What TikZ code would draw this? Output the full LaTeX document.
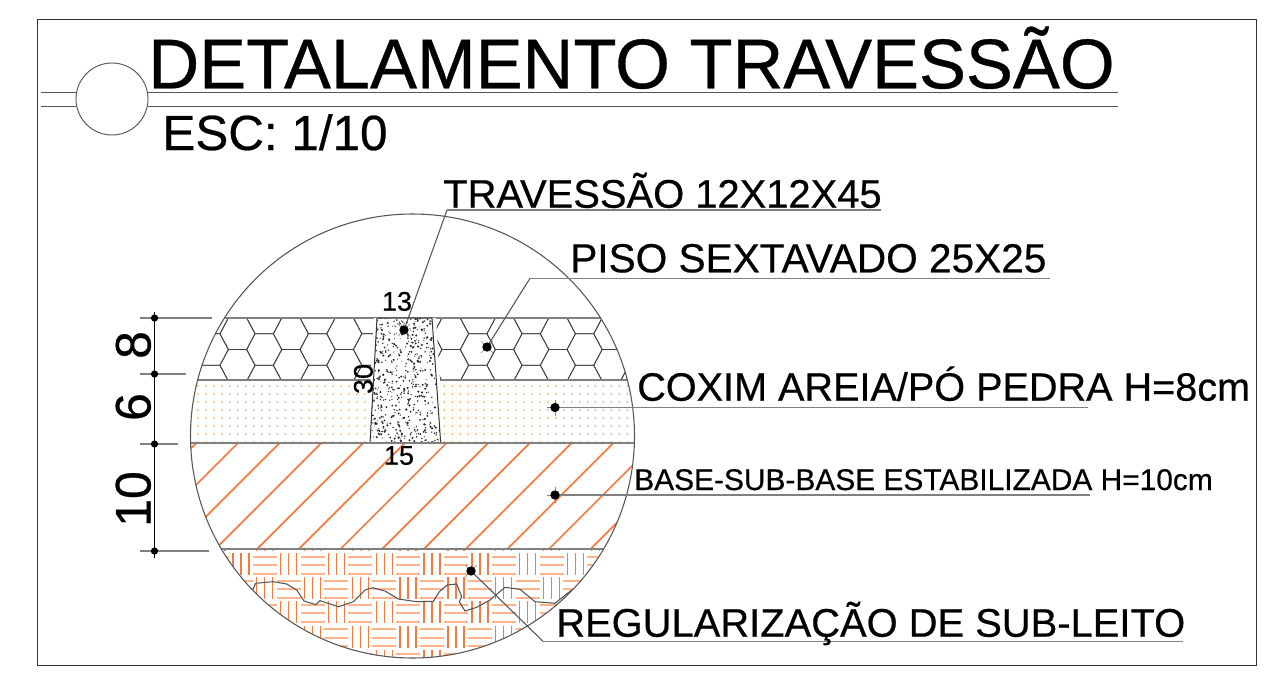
\documentclass[tikz,border=0pt]{standalone}
\usepackage{fontspec}
\setmainfont[FakeBold=0.5]{Liberation Sans}
\newcommand{\fsz}[1]{\pgfmathsetlengthmacro{\myfs}{#1*0.75}\fontsize{\myfs}{\myfs}\selectfont}
\definecolor{hatchor}{HTML}{F47B3E}
\definecolor{hatchlt}{HTML}{FFB48C}
\definecolor{dotor}{HTML}{FFB060}
\definecolor{inkg}{HTML}{555555}
\tikzset{
  x=0.75pt,y=-0.75pt,
  thin line/.style={draw=inkg,line width=0.75pt},
  ext line/.style={draw=gray,line width=1pt},
  axis line/.style={draw=black,line width=0.75pt},
  layer line/.style={draw=gray,line width=1.3pt},
  hex line/.style={draw=black!75,line width=0.6pt},
  lab/.style={inner sep=0pt,anchor=base,text=black},
  labw/.style={inner sep=0pt,anchor=base west,text=black},
  pin/.style={circle,fill=black,inner sep=0pt,minimum size=7pt},
  tick line/.style={draw=gray,line width=0.5pt},
  leader/.style={draw=inkg,line width=0.8pt},
  under line/.style={draw=gray,line width=1.1pt},
  dimdot/.style={circle,fill=black,inner sep=0pt,minimum size=5.5pt},
}
\begin{document}
\begin{tikzpicture}
\useasboundingbox (0,0) rectangle (1271,675);
\fill[white] (0,0) rectangle (1271,675);
% frame
\draw[draw=black!80,line width=0.7pt] (37,19) rectangle (1256,665);
% header
\node[circle,draw=inkg,line width=0.7pt,minimum size=54pt,inner sep=0pt] (hc) at (112,99) {};
\coordinate (hl1) at (41,92); \coordinate (hl2) at (41,106);
\coordinate (hr1) at (1118,92); \coordinate (hr2) at (1118,106);
\draw[thin line] (hl1) -- (hl1 -| hc.west);
\draw[thin line] (hl2) -- (hl2 -| hc.west);
\draw[thin line] (hr1) -- (hr1 -| hc.east);
\draw[thin line] (hr2) -- (hr2 -| hc.east);
% circle content
\begin{scope}
\clip (412.5,436) circle[radius=222];
% hexes
\begin{scope}
\clip (150,318) rectangle (680,380);
\foreach \ka in {-1,...,8}{
  \foreach \ja in {-1,...,2}{
    \foreach \oa in {0,1}{
      \pgfmathsetmacro{\cx}{237.5+53.4*\ka+26.7*\oa}
      \pgfmathsetmacro{\cy}{333.75+31.5*\ja+15.75*\oa}
      \draw[hex line] (\cx-9.15,\cy-15.75) -- (\cx+9.15,\cy-15.75) -- (\cx+17.55,\cy) -- (\cx+9.15,\cy+15.75) -- (\cx-9.15,\cy+15.75) -- (\cx-17.55,\cy) -- cycle;
    }
  }
}
\end{scope}
% sand dots
\foreach \ra in {0,...,7}{
  \foreach \ca in {0,...,56}{
    \fill[dotor] (190+7.95*\ca,386+8*\ra) circle[radius=1];
  }
}
% base hatch
\begin{scope}
\clip (150,443) rectangle (680,549);
\foreach \ka in {-2,...,14}{
  \draw[hatchor,line width=1.3pt] (681+41.7*\ka-443,443) -- (681+41.7*\ka-549,549);
}
\end{scope}
% basket weave
\begin{scope}
\clip (150,549) rectangle (680,670);
\foreach \ia in {-3,...,16}{
  \foreach \ja in {-1,...,4}{
    \pgfmathsetmacro{\tx}{252.7+23.9*\ia}
    \pgfmathsetmacro{\ty}{554+24.2*\ja}
    \pgfmathtruncatemacro{\myodd}{mod(\ia+\ja+100,2)}
    \ifnum\myodd=0
      \foreach \da in {2.7,11,19.5}{
        \fill[hatchlt] (\tx,\ty+\da-1) rectangle (\tx+24,\ty+\da+1);
      }
    \else
      \foreach \da in {4,12,20}{
        \fill[hatchor] (\tx+\da-0.7,\ty-1) rectangle (\tx+\da+0.7,\ty+21);
      }
    \fi
  }
}
\end{scope}
% layer lines
\coordinate (lay1l) at (150,318); \coordinate (lay1r) at (680,318);
\coordinate (lay2l) at (150,380); \coordinate (lay2r) at (680,380);
\coordinate (lay3l) at (150,443); \coordinate (lay3r) at (680,443);
\coordinate (lay4l) at (150,549); \coordinate (lay4r) at (680,549);
\draw[layer line] (lay1l) -- (lay1r);
\draw[layer line] (lay2l) -- (lay2r);
\draw[layer line] (lay3l) -- (lay3r);
\draw[layer line] (lay4l) -- (lay4r);
% terrain line
\draw[draw=inkg,line width=0.8pt] (252.7,590) -- (255.7,583.3) -- (273.3,581.7) -- (286.7,584) -- (296.7,590) -- (304,601) -- (316,604.7) -- (320,600.7) -- (338.7,606.7) -- (353.3,601.7) -- (365,590) -- (372.7,587.7) -- (385,591) -- (398.3,599) -- (416.7,601.7) -- (433.3,601.3) -- (439.3,591.7) -- (447.3,585) -- (456.7,584) -- (461.7,596.7) -- (459.3,601.7) -- (465,611) -- (476.7,607.3) -- (490,600) -- (505,587.3) -- (520,589.3) -- (535,601.7) -- (555,603.3) -- (571.7,590);
\end{scope}
\draw[draw=inkg,line width=0.8pt] (412.5,436) circle[radius=222];
% travessao block
\fill[white] (374,318) -- (436,318) -- (444,443) -- (367,443) -- cycle;
\begin{scope}
\clip (377,318) -- (432,318) -- (440.7,443) -- (370,443) -- cycle;
\pgfmathsetseed{4242}
\foreach \na in {1,...,620}{
  \pgfmathsetmacro{\rx}{368+rnd*74}
  \pgfmathsetmacro{\ry}{318+rnd*125}
  \pgfmathsetmacro{\rr}{0.45+rnd*0.75}
  \fill[black!85] (\rx,\ry) circle[radius=\rr];
}
\end{scope}
\draw[draw=black!80,line width=0.75pt] (377,318) -- (432,318) -- (440.7,443) -- (370,443) -- cycle;
\draw[layer line] (367,443) -- (444,443);
% dimensions
\coordinate (dt) at (154.5,312); \coordinate (db) at (154.5,558);
\coordinate (s1) at (140,318); \coordinate (e1) at (212,318);
\coordinate (s2) at (140,374); \coordinate (e2) at (186,374);
\coordinate (s3) at (140,444); \coordinate (e3) at (178,444);
\coordinate (s4) at (140,551); \coordinate (e4) at (209,551);
\draw[ext line] (s1) -- (e1);
\draw[ext line] (s2) -- (e2);
\draw[ext line] (s3) -- (e3);
\draw[ext line] (s4) -- (e4);
\draw[axis line] (dt) -- (db);
\node[dimdot] (d1) at (154.5,318) {};
\node[dimdot] (d2) at (154.5,374) {};
\node[dimdot] (d3) at (154.5,444) {};
\node[dimdot] (d4) at (154.5,551) {};
% pins and leaders
\coordinate (p1) at (404,330);
\coordinate (p2) at (487,347);
\coordinate (p3) at (555,407.5);
\coordinate (p4) at (555,495);
\coordinate (p5) at (471,571);
\foreach \pn in {p1,p2,p5}{
  \draw[tick line] (\pn) ++(-6,-6) -- ++(12,12);
  \draw[tick line] (\pn) ++(6,-6) -- ++(-12,12);
}
\foreach \pn in {p3,p4}{
  \draw[tick line] (\pn) ++(-8,0) -- ++(16,0);
  \draw[tick line] (\pn) ++(0,-8) -- ++(0,16);
}
\coordinate (k1) at (447,210); \coordinate (u1) at (881,210);
\coordinate (k2) at (530,278.3); \coordinate (u2) at (1050,278.3);
\coordinate (u3) at (1088,407.5);
\coordinate (u4) at (1090,495);
\coordinate (k5) at (543,641.3); \coordinate (u5) at (1183,641.3);
\draw[leader] (p1) -- (k1);
\draw[under line] (k1) -- (u1);
\draw[leader] (p2) -- (k2);
\draw[under line] (k2) -- (u2);
\draw[under line] (p3) -- (u3);
\draw[under line] (p4) -- (u4);
\draw[leader] (p5) -- (k5);
\draw[under line] (k5) -- (u5);
\node[pin] (pd1) at (p1) {};
\node[pin] (pd2) at (p2) {};
\node[pin] (pd3) at (p3) {};
\node[pin] (pd4) at (p4) {};
\node[pin] (pd5) at (p5) {};
% texts
\node[lab] (title) at (631.5,88.3) {\fsz{70.4}DETALAMENTO TRAVESSÃO};
\node[lab] (esc) at (275,150) {\fsz{49.4}ESC: 1/10};
\node[lab,rotate=90] (n8) at (150.5,345) {\fsz{50}8};
\node[lab,rotate=90] (n6) at (150.5,407) {\fsz{50}6};
\node[lab,rotate=90] (n10) at (150.5,499) {\fsz{50}10};
\node[lab] (n13) at (397,310.7) {\fsz{27}13};
\node[lab,rotate=90] (n30) at (372.7,379) {\fsz{27}30};
\node[lab] (n15) at (399,464.7) {\fsz{27}15};
\node[labw] (t1) at (443,207.7) {\fsz{39.9}TRAVESSÃO 12X12X45};
\node[labw] (t2) at (570,272.3) {\fsz{40.6}PISO SEXTAVADO 25X25};
\node[labw] (t3) at (637,400.7) {\fsz{39.6}COXIM AREIA/PÓ PEDRA H=8cm};
\node[labw] (t4) at (634,490) {\fsz{29.9}BASE-SUB-BASE ESTABILIZADA H=10cm};
\node[labw] (t5) at (556,636.7) {\fsz{39.9}REGULARIZAÇÃO DE SUB-LEITO};
\end{tikzpicture}
\end{document}
